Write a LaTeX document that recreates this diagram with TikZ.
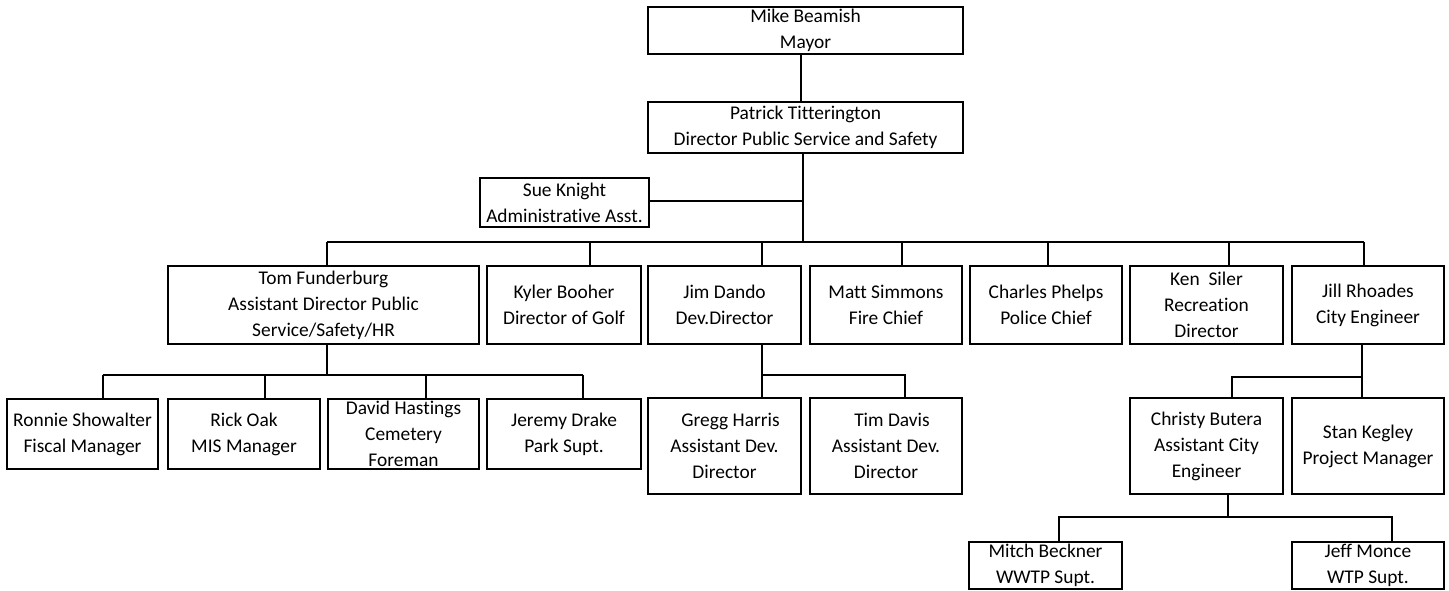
\documentclass[tikz,border=0pt]{standalone}
\usepackage{fontspec}
\setmainfont{Carlito}[Ligatures={NoCommon}]
\begin{document}
\begin{tikzpicture}[x=0.5pt,y=-0.5pt,
  box/.style={draw,line width=0.8pt,inner sep=0pt,align=center,anchor=center,
    font=\fontsize{9.7}{13}\selectfont},
  link/.style={line width=0.8pt}]
\useasboundingbox (0,0) rectangle (1449,590);
% --- boxes (centres in px) ---
\node[box,minimum width=157.5pt,minimum height=23.5pt] (mayor) at (805.5,30.5) {Mike Beamish\\Mayor};
\node[box,minimum width=157.5pt,minimum height=25.5pt] (patrick) at (805.5,127.5) {Patrick Titterington\\Director Public Service and Safety};
\node[box,minimum width=84.5pt,minimum height=24.5pt] (sue) at (564.5,202.5) {Sue Knight\\Administrative Asst.};
% row 1
\node[box,minimum width=155.5pt,minimum height=39pt] (tom) at (323.5,305) {Tom Funderburg\\Assistant Director Public\\Service/Safety/HR};
\node[box,minimum width=77pt,minimum height=39pt] (kyler) at (564,305) {Kyler Booher\\Director of Golf};
\node[box,minimum width=76.5pt,minimum height=39pt] (jim) at (724.5,305) {Jim Dando\\Dev.Director};
\node[box,minimum width=76pt,minimum height=39pt] (matt) at (886,305) {Matt Simmons\\Fire Chief};
\node[box,minimum width=76pt,minimum height=39pt] (charles) at (1046,305) {Charles Phelps\\Police Chief};
\node[box,minimum width=76.5pt,minimum height=39pt] (ken) at (1206.5,305) {Ken\ \ Siler\\Recreation\\Director};
\node[box,minimum width=76pt,minimum height=39pt] (jill) at (1368,305) {Jill Rhoades\\City Engineer};
% row 2 (left group)
\node[box,minimum width=75.5pt,minimum height=35pt] (ronnie) at (82.5,434) {Ronnie Showalter\\Fiscal Manager};
\node[box,minimum width=76pt,minimum height=35pt] (rick) at (244,434) {Rick Oak\\MIS Manager};
\node[box,minimum width=75.5pt,minimum height=35pt] (david) at (403.5,434) {David Hastings\\Cemetery\\Foreman};
\node[box,minimum width=77pt,minimum height=35pt] (jeremy) at (564,434) {Jeremy Drake\\Park Supt.};
% row 2 (other groups)
\node[box,minimum width=76.5pt,minimum height=48pt] (gregg) at (724.5,446) {\hspace{6pt}Gregg Harris\\Assistant Dev.\\Director};
\node[box,minimum width=76pt,minimum height=48pt] (tim) at (886,446) {\hspace{6pt}Tim Davis\\Assistant Dev.\\Director};
\node[box,minimum width=76.5pt,minimum height=48pt] (christy) at (1206.5,446) {Christy Butera\\Assistant City\\Engineer};
\node[box,minimum width=76pt,minimum height=48pt] (stan) at (1368,446) {Stan Kegley\\Project Manager};
% row 3
\node[box,minimum width=76.5pt,minimum height=23.5pt] (mitch) at (1045.5,565.5) {Mitch Beckner\\WWTP Supt.};
\node[box,minimum width=76pt,minimum height=23.5pt] (jeff) at (1368,565.5) {Jeff Monce\\WTP Supt.};
% --- connector x positions and bar levels ---
\coordinate (xM) at (801,0);
\coordinate (xP) at (803,0);
\coordinate (bar) at (0,242);
\coordinate (xTom) at (327,0);
\coordinate (xKy) at (590,0);
\coordinate (xJim) at (762,0);
\coordinate (xMatt) at (902,0);
\coordinate (xCh) at (1048,0);
\coordinate (xKen) at (1229,0);
\coordinate (xJill) at (1364,0);
\coordinate (xJillB) at (1362,0);
\coordinate (barT) at (0,375);
\coordinate (xRon) at (103,0);
\coordinate (xRick) at (265,0);
\coordinate (xDav) at (426,0);
\coordinate (xJer) at (583,0);
\coordinate (xTim) at (905,0);
\coordinate (barJ) at (0,377);
\coordinate (xChr) at (1232,0);
\coordinate (xChrB) at (1228,0);
\coordinate (barC) at (0,517);
\coordinate (xMit) at (1059,0);
\coordinate (xJeff) at (1392,0);
\coordinate (ySue) at (0,201);
% --- connectors ---
\draw[link] (mayor.south -| xM) -- (patrick.north -| xM);
\draw[link] (patrick.south -| xP) -- (bar -| xP);
\draw[link] (ySue -| sue.east) -- (ySue -| xP);
\draw[link] (bar -| xTom) -- (bar -| xJill);
\foreach \n/\c in {tom/xTom,kyler/xKy,jim/xJim,matt/xMatt,charles/xCh,ken/xKen,jill/xJill}
  \draw[link] (bar -| \c) -- (\n.north -| \c);
% Tom's group
\draw[link] (tom.south -| xTom) -- (barT -| xTom);
\draw[link] (barT -| xRon) -- (barT -| xJer);
\foreach \n/\c in {ronnie/xRon,rick/xRick,david/xDav,jeremy/xJer}
  \draw[link] (barT -| \c) -- (\n.north -| \c);
% Jim's group
\draw[link] (jim.south -| xJim) -- (gregg.north -| xJim);
\draw[link] (barT -| xJim) -- (barT -| xTim) -- (tim.north -| xTim);
% Jill's group
\draw[link] (jill.south -| xJillB) -- (stan.north -| xJillB);
\draw[link] (barJ -| xJillB) -- (barJ -| xChr) -- (christy.north -| xChr);
% Christy's group
\draw[link] (christy.south -| xChrB) -- (barC -| xChrB);
\draw[link] (mitch.north -| xMit) -- (barC -| xMit) -- (barC -| xJeff) -- (jeff.north -| xJeff);
\end{tikzpicture}
\end{document}
